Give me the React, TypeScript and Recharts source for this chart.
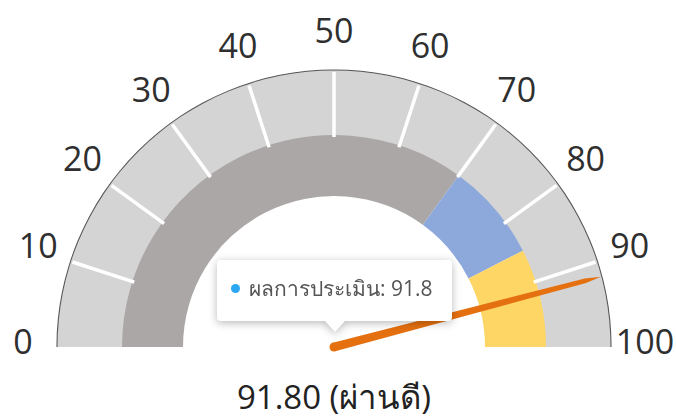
import React from 'react';
import { PieChart, Pie, Cell } from 'recharts';

// ---- data ----
const tickValues = [0, 10, 20, 30, 40, 50, 60, 70, 80, 90, 100];
const scaleSegments = [10, 10, 10, 10, 10, 10, 10, 10, 10, 10];
const bandNames = ['ต่ำกว่าเกณฑ์', 'ผ่าน', 'ผ่านดี'];
const bandValues = [70, 15, 15];
const bandColors = ['#aba7a7', '#8da9db', '#fdd666'];
const score = 91.8;
const maxScore = 100;
const seriesName = 'ผลการประเมิน';
const resultLabel = 'ผ่านดี';

const scaleData = scaleSegments.map((v, i) => ({
  name: `${tickValues[i]}-${tickValues[i + 1]}`,
  value: v,
  from: tickValues[i],
  to: tickValues[i + 1],
}));
const bandData = bandValues.map((v, i) => ({ name: bandNames[i], value: v }));
const needleData = [
  { name: seriesName, value: score },
  { name: 'rest', value: maxScore - score },
];
const outlineData = [{ name: 'outline', value: maxScore }];

const W = 676;
const H = 418;
const CX = 334;
const CY = 347;
const FONT = "'Open Sans', 'Noto Sans', sans-serif";
const RAD = Math.PI / 180;

const polar = (cx: number, cy: number, r: number, angle: number) => ({
  x: cx + r * Math.cos(angle * RAD),
  y: cy - r * Math.sin(angle * RAD),
});

function renderScaleLabel(props: any) {
  const { cx, cy, startAngle, endAngle, innerRadius, outerRadius, index, payload } = props;
  const labelR = outerRadius + 34;
  const items: any[] = [];
  const addLabel = (angle: number, text: number, key: string) => {
    const p = polar(cx, cy, labelR, angle);
    items.push(
      <text
        key={key}
        x={p.x}
        y={p.y - 6}
        textAnchor="middle"
        dominantBaseline="central"
        fill="#2f2f2f"
        fontSize={34}
        fontFamily={FONT}
      >
        {text}
      </text>
    );
  };
  const from = payload && payload.from !== undefined ? payload.from : tickValues[index];
  const to = payload && payload.to !== undefined ? payload.to : tickValues[index + 1];
  addLabel(startAngle, from, 'a');
  if (index === scaleSegments.length - 1) addLabel(endAngle, to, 'b');
  if (index > 0) {
    const p1 = polar(cx, cy, innerRadius, startAngle);
    const p2 = polar(cx, cy, outerRadius - 2, startAngle);
    items.push(
      <line key="t" x1={p1.x} y1={p1.y} x2={p2.x} y2={p2.y} stroke="#ffffff" strokeWidth={3.5} />
    );
  }
  return <g>{items}</g>;
}

function renderNeedle(props: any) {
  const { cx, cy, endAngle, outerRadius, index } = props;
  if (index !== 0) return <g />;
  const tip = polar(cx, cy, outerRadius, endAngle);
  const b1 = polar(cx, cy, 4.5, endAngle + 90);
  const b2 = polar(cx, cy, 4.5, endAngle - 90);
  const mid = polar(cx, cy, outerRadius - 16, endAngle);
  const off = 2.3;
  const dx = off * Math.cos((endAngle + 90) * RAD);
  const dy = -off * Math.sin((endAngle + 90) * RAD);
  return (
    <g>
      <circle cx={cx} cy={cy} r={4.5} fill="#e5700f" />
      <polygon
        points={`${b1.x},${b1.y} ${mid.x + dx},${mid.y + dy} ${tip.x},${tip.y} ${mid.x - dx},${mid.y - dy} ${b2.x},${b2.y}`}
        fill="#e5700f"
      />
      <text
        x={cx}
        y={cy + 62}
        textAnchor="middle"
        fill="#222"
        fontSize={33}
        fontFamily={FONT}
      >
        {`${score.toFixed(2)} (${resultLabel})`}
      </text>
    </g>
  );
}

export default function App() {
  return (
    <div
      style={{
        position: 'absolute',
        left: 0,
        top: 0,
        width: W,
        height: H,
        background: '#fff',
        fontFamily: FONT,
        overflow: 'hidden',
      }}
    >
      <PieChart width={W} height={H} margin={{ top: 0, right: 0, bottom: 0, left: 0 }}>
        <Pie
          data={scaleData}
          dataKey="value"
          cx={CX}
          cy={CY}
          startAngle={180}
          endAngle={0}
          innerRadius={210}
          outerRadius={277}
          stroke="none"
          fill="#d4d4d4"
          label={renderScaleLabel}
          labelLine={false}
          isAnimationActive={false}
        />
        <Pie
          data={outlineData}
          dataKey="value"
          cx={CX}
          cy={CY}
          startAngle={180}
          endAngle={0}
          innerRadius={276.5}
          outerRadius={277.6}
          stroke="none"
          fill="#555"
          isAnimationActive={false}
        />
        <Pie
          data={bandData}
          dataKey="value"
          cx={CX}
          cy={CY}
          startAngle={180}
          endAngle={0}
          innerRadius={151}
          outerRadius={212}
          stroke="none"
          isAnimationActive={false}
        >
          {bandData.map((d, i) => (
            <Cell key={d.name} fill={bandColors[i]} />
          ))}
        </Pie>
        <Pie
          data={needleData}
          dataKey="value"
          cx={CX}
          cy={CY}
          startAngle={180}
          endAngle={0}
          innerRadius={0}
          outerRadius={276}
          stroke="none"
          fill="transparent"
          label={renderNeedle}
          labelLine={false}
          isAnimationActive={false}
        />
      </PieChart>
      <div
        style={{
          position: 'absolute',
          left: 217,
          top: 260,
          width: 235,
          height: 61,
          filter: 'drop-shadow(0 2px 4px rgba(0,0,0,0.28))',
          pointerEvents: 'none',
        }}
      >
        <div
          style={{
            position: 'absolute',
            inset: 0,
            background: '#fff',
            borderRadius: 4,
            display: 'flex',
            alignItems: 'center',
            boxSizing: 'border-box',
            paddingLeft: 14,
            paddingBottom: 5,
          }}
        >
          <span
            style={{
              display: 'inline-block',
              width: 9,
              height: 9,
              borderRadius: '50%',
              background: '#2ba6f3',
              marginRight: 9,
              flexShrink: 0,
            }}
          />
          <span style={{ fontSize: 21, color: '#555', whiteSpace: 'nowrap' }}>
            {`${seriesName}: ${score}`}
          </span>
        </div>
        <div
          style={{
            position: 'absolute',
            left: 108,
            top: 61,
            width: 0,
            height: 0,
            borderLeft: '10px solid transparent',
            borderRight: '10px solid transparent',
            borderTop: '11px solid #fff',
          }}
        />
      </div>
    </div>
  );
}
